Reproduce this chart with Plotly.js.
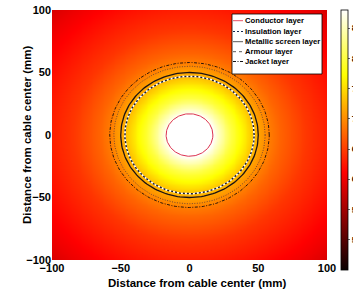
<!DOCTYPE html>
<html><head><meta charset="utf-8">
<script src="https://cdn.plot.ly/plotly-3.0.1.min.js"></script>
<style>html,body{margin:0;padding:0;background:#fff;overflow:hidden;width:353px;height:291px;}#chart{width:380px;height:291px;}</style>
</head><body><div id="chart"></div>
<script>
// Radial temperature profile (mm, °C)
const profileR = [0, 17, 20, 25, 30, 35, 40, 47, 50, 55, 58, 65, 75, 85, 100, 115, 130, 142];
const profileT = [88, 88, 86, 83, 80, 78, 76, 73, 71.5, 70, 69, 67.5, 66, 64.5, 63, 61.5, 60, 58.5];
// Layer radii (mm)
const layerNames = ["Conductor layer", "Insulation layer", "Metallic screen layer", "Armour layer", "Jacket layer"];
const layerRadii = [17, 47, 50, 55, 58];
const colorTicks = [50, 55, 60, 65, 70, 75, 80, 85];
const axisTicks = [-100, -50, 0, 50, 100];
const axisTitle = 'Distance from cable center (mm)';
const gridX = [];
for (let v = -100; v <= 100; v += 2) gridX.push(v);

function lookup(r) {
  for (let i = 1; i < profileR.length; i++) {
    if (r <= profileR[i]) {
      const f = (r - profileR[i-1]) / (profileR[i] - profileR[i-1]);
      return profileT[i-1] + f * (profileT[i] - profileT[i-1]);
    }
  }
  return profileT[profileT.length - 1];
}
const z = gridX.map(yv => gridX.map(xv => lookup(Math.hypot(xv, yv))));

const hot = [[0, 'rgb(10,0,0)'], [0.375, 'rgb(255,0,0)'], [0.75, 'rgb(255,255,0)'], [1, 'rgb(255,255,255)']];

function circle(r) {
  const xs = [], ys = [];
  for (let k = 0; k <= 180; k++) { const a = k / 180 * 2 * Math.PI; xs.push(r * Math.cos(a)); ys.push(r * Math.sin(a)); }
  return {xs, ys};
}
const styles = [
  {color: 'rgb(220,50,80)', width: 1, dash: 'solid'},
  {color: 'rgb(30,30,50)', width: 1.5, dash: '2px,2px'},
  {color: 'rgb(30,20,20)', width: 1.3, dash: 'solid'},
  {color: 'rgb(120,70,50)', width: 1, dash: '1px,1.5px'},
  {color: 'rgb(20,10,10)', width: 0.9, dash: '3px,1.5px,1px,1.5px'}
];
const legendStyles = [
  {color: 'rgb(230,80,100)', width: 1, dash: 'solid'},
  {color: 'rgb(20,40,80)', width: 1, dash: '2px,2px'},
  {color: 'rgb(90,90,90)', width: 1, dash: 'solid'},
  {color: 'rgb(90,90,90)', width: 1, dash: 'dot'},
  {color: 'rgb(20,20,20)', width: 1, dash: '3px,1.5px,1px,1.5px'}
];
const traces = [{
  type: 'heatmap', x: gridX, y: gridX, z: z, zmin: 45, zmax: 88, zsmooth: 'best',
  colorscale: hot, showlegend: false, hoverinfo: 'skip',
  colorbar: {x: 1.051, xanchor: 'left', xpad: 0, ypad: 0, y: 1, yanchor: 'top',
    thicknessmode: 'pixels', thickness: 7, lenmode: 'pixels', len: 260,
    outlinewidth: 0.8, outlinecolor: '#000', ticks: 'outside', ticklen: 2, tickwidth: 0.8,
    tickvals: colorTicks, ticktext: colorTicks.map(String),
    tickfont: {family: 'Arial, Liberation Sans', size: 9, weight: 'bold', color: '#000'}}
}];
const ins = circle(layerRadii[1]);
traces.push({type: 'scatter', mode: 'lines', x: ins.xs, y: ins.ys, showlegend: false, hoverinfo: 'skip',
  line: {color: '#fff', width: 1.5}});
layerRadii.forEach((r, i) => {
  const c = circle(r);
  traces.push({type: 'scatter', mode: 'lines', x: c.xs, y: c.ys, name: layerNames[i], line: styles[i],
    hoverinfo: 'skip', showlegend: false});
});

const f = {family: 'Arial, Liberation Sans', weight: 'bold', color: '#000'};
// pixel -> paper helpers (plot area 52..327 x, 10..260 y)
const px = v => (v - 52) / 275, py = v => (260 - v) / 250;
const shapes = [{type: 'rect', xref: 'paper', yref: 'paper', x0: px(232), x1: px(322), y0: py(14), y1: py(74),
  fillcolor: '#fff', line: {color: '#000', width: 0.8}}];
const annotations = [
  {xref: 'paper', yref: 'paper', x: px(196.5), y: py(283), xanchor: 'center', yanchor: 'middle', showarrow: false,
    text: axisTitle, font: Object.assign({size: 11.5}, f)},
  {xref: 'paper', yref: 'paper', x: px(27), y: 0.5, xanchor: 'center', yanchor: 'middle', showarrow: false,
    textangle: -90, text: axisTitle, font: Object.assign({size: 11.5}, f)}
];
const rows = [20.7, 31.5, 41.7, 51.7, 61.5];
layerNames.forEach((n, i) => {
  shapes.push({type: 'line', xref: 'paper', yref: 'paper', x0: px(233), x1: px(243), y0: py(rows[i]), y1: py(rows[i]),
    line: legendStyles[i]});
  annotations.push({xref: 'paper', yref: 'paper', x: px(243), y: py(rows[i]), xanchor: 'left', yanchor: 'middle',
    showarrow: false, text: n, font: Object.assign({size: 7.7}, f)});
});

const layout = {
  width: 380, height: 291, margin: {l: 52, r: 53, t: 10, b: 31},
  paper_bgcolor: '#fff', plot_bgcolor: '#fff',
  xaxis: {range: [-100, 100], tickvals: axisTicks, ticks: '', showgrid: false, zeroline: false,
    tickfont: Object.assign({size: 11}, f)},
  yaxis: {range: [-100, 100], tickvals: axisTicks, ticks: '', showgrid: false, zeroline: false,
    tickfont: Object.assign({size: 11}, f)},
  shapes: shapes, annotations: annotations,
  showlegend: false
};
Plotly.newPlot('chart', traces, layout, {staticPlot: true, displayModeBar: false});
</script></body></html>
